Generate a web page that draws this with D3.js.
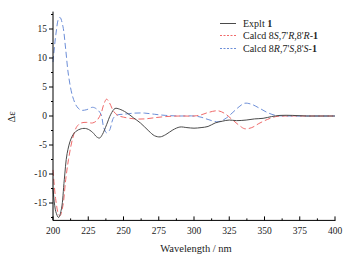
<!DOCTYPE html>
<html><head><meta charset="utf-8">
<script src="https://cdn.jsdelivr.net/npm/d3@7"></script>
<style>body{margin:0;background:#fff}svg{display:block}</style>
</head><body><svg id="c" width="363" height="260" font-family="'Liberation Serif', 'Times New Roman', Times, 'DejaVu Serif', serif"></svg>
<script>
const xTicks = [200,225,250,275,300,325,350,375,400];
const yTicks = [-15,-10,-5,0,5,10,15];
const expWl = [200,202,204,206,208,210,213,216,220,224,228,231,233,235,238,241,244,247,252,257,262,268,272,276,280,285,290,295,300,305,310,315,320,325,330,337,343,349,355,361,370,380,390,400];
const expVal = [-12.4,-16.5,-17.5,-16,-11,-6.5,-3.8,-2.7,-2.2,-2.2,-2.8,-3.6,-3.8,-3.2,-1.5,0.3,1.3,1.2,0.6,-0.3,-1.2,-2.6,-3.4,-3.6,-3.2,-2.4,-1.9,-2.0,-2.1,-2.0,-1.8,-1.2,-0.9,-0.7,-0.8,-0.7,-0.5,-0.4,-0.1,0.1,0.1,0,0,0];
const calcWl = [200,202,204,205,207,209,211,214,217,220,224,228,231,234,236,238,240,243,246,250,258,265,272,280,290,300,305,310,317,322,327,332,336,341,346,352,358,365,380,400];
const redVal = [-9.3,-14.5,-17,-17.2,-15.5,-11,-7.5,-3.8,-1.8,-1.2,-1.1,-1.2,-0.8,0.4,2.0,2.9,2.3,0.8,0.1,-0.2,-0.5,-0.5,-0.3,-0.1,0,0,0.2,0.6,0.9,0.4,-0.6,-1.6,-2.2,-2.0,-1.3,-0.6,-0.1,0,0,0];
const blueVal = [9.3,14,16.8,17,15.5,11.5,7,3.3,1.6,1.0,1.1,1.5,1.2,0.3,-2.0,-2.9,-2.5,-0.3,0.2,0.3,0.5,0.5,0.3,0.1,0,0,-0.2,-0.6,-1.0,-0.5,0.5,1.6,2.2,2.0,1.4,0.6,0.1,0,0,0];

const svg = d3.select("#c");
const x = d3.scaleLinear().domain([200,400]).range([53,335]);
const y = d3.scaleLinear().domain([-18,18]).range([220.4,11.6]);

const line = d3.line().x(d=>x(d[0])).y(d=>y(d[1])).curve(d3.curveCatmullRom);

const series = [
  {name:"exp", wl:expWl, v:expVal, color:"#4a4a4a", dash:null},
  {name:"red", wl:calcWl, v:redVal, color:"#f06a6a", dash:"6,3"},
  {name:"blue", wl:calcWl, v:blueVal, color:"#6c8ed8", dash:"6,3"}
];
series.slice().reverse().forEach(s=>{
  svg.append("path").datum(s.wl.map((w,i)=>[w,s.v[i]]))
    .attr("d",line).attr("fill","none").attr("stroke",s.color)
    .attr("stroke-width",1).attr("stroke-dasharray",s.dash);
});

const xMinor = d3.range(200,401,12.5);
const yMinor = d3.range(-17.5,18,2.5);
const gx = svg.append("g").attr("transform","translate(0,220.4)");
gx.append("line").attr("x1",53).attr("x2",335.5).attr("stroke","#000");
gx.selectAll(".mj").data(xTicks).join("line").attr("x1",d=>x(d)).attr("x2",d=>x(d)).attr("y1",0).attr("y2",-4).attr("stroke","#000");
gx.selectAll(".mn").data(xMinor.filter(v=>!xTicks.includes(v))).join("line").attr("x1",d=>x(d)).attr("x2",d=>x(d)).attr("y1",0).attr("y2",-2).attr("stroke","#000");
gx.selectAll("text").data(xTicks).join("text").attr("x",d=>x(d)).attr("y",13.5).attr("text-anchor","middle").attr("font-size","9.5px").attr("fill","#222").text(d=>d);

const gy = svg.append("g").attr("transform","translate(53,0)");
gy.append("line").attr("y1",y(-18)).attr("y2",y(18)).attr("stroke","#000");
gy.selectAll(".mj").data(yTicks).join("line").attr("y1",d=>y(d)).attr("y2",d=>y(d)).attr("x1",0).attr("x2",-4).attr("stroke","#000");
gy.selectAll(".mn").data(yMinor.filter(v=>!yTicks.includes(v))).join("line").attr("y1",d=>y(d)).attr("y2",d=>y(d)).attr("x1",0).attr("x2",-2).attr("stroke","#000");
gy.selectAll("text").data(yTicks).join("text").attr("x",-6).attr("y",d=>y(d)+3.3).attr("text-anchor","end").attr("font-size","9.5px").attr("fill","#222").text(d=>d);

svg.append("text").attr("x",196).attr("y",252).attr("text-anchor","middle").attr("font-size","10.5px").attr("fill","#222").text("Wavelength / nm");
svg.append("text").attr("transform","translate(15,117) rotate(-90)").attr("text-anchor","middle").attr("font-size","10.5px").attr("fill","#222").text("Δε");

const leg = [
  {s:series[0], parts:[["Explt ",""],["1","b"]]},
  {s:series[1], parts:[["Calcd 8",""],["S","i"],[",7'",""],["R","i"],[",8'",""],["R","i"],["-",""],["1","b"]]},
  {s:series[2], parts:[["Calcd 8",""],["R","i"],[",7'",""],["S","i"],[",8'",""],["S","i"],["-",""],["1","b"]]}
];
const ly = [23.5,35.5,48.5];
leg.forEach((l,i)=>{
  svg.append("line").attr("x1",220).attr("x2",236).attr("y1",ly[i]).attr("y2",ly[i])
    .attr("stroke",l.s.color).attr("stroke-width",1).attr("stroke-dasharray",l.s.dash?"2,1.5":null);
  const t = svg.append("text").attr("x",243).attr("y",ly[i]+3.3).attr("font-size","10px").attr("fill","#222");
  l.parts.forEach(p=>{
    const ts = t.append("tspan").text(p[0]);
    if(p[1]==="i") ts.attr("font-style","italic");
    if(p[1]==="b") ts.attr("font-weight","bold");
  });
});
</script></body></html>
